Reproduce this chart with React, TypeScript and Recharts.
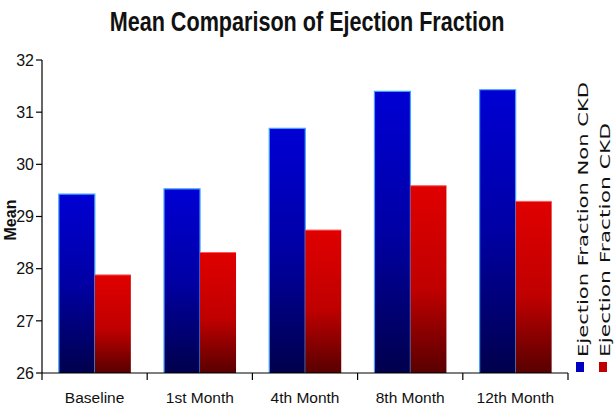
import { BarChart, Bar, XAxis, YAxis } from 'recharts';

const months = ['Baseline', '1st Month', '4th Month', '8th Month', '12th Month'];
const nonCkd = [29.43, 29.53, 30.69, 31.4, 31.43];
const ckd = [27.88, 28.31, 28.74, 29.59, 29.29];
const yTicks = [26, 27, 28, 29, 30, 31, 32];

const data = months.map((m, i) => ({ month: m, nonCkd: nonCkd[i], ckd: ckd[i] }));

const BlueBar = (p: any) => (
  <g>
    <rect x={p.x} y={p.y} width={p.width} height={p.height} fill="url(#gBlue)" />
    <path
      d={`M${p.x},${p.y + p.height} V${p.y} H${p.x + p.width} V${p.y + p.height}`}
      stroke="#3fa2ff"
      strokeWidth={1.2}
      fill="none"
    />
  </g>
);

const RedBar = (p: any) => (
  <g>
    <rect x={p.x} y={p.y} width={p.width} height={p.height} fill="url(#gRed)" />
    <line x1={p.x} x2={p.x + p.width} y1={p.y} y2={p.y} stroke="#ff5a5a" strokeWidth={1} />
  </g>
);

const XTick = (p: any) => {
  const { x, y, payload, index } = p;
  const off = payload.offset || 52.6;
  return (
    <g>
      {index === 0 && <line x1={x - off} x2={x - off} y1={y - 7} y2={y} stroke="#000" strokeWidth={1.2} />}
      <line x1={x + off} x2={x + off} y1={y - 7} y2={y} stroke="#000" strokeWidth={1.2} />
      <text x={x} y={y + 23} textAnchor="middle" fill="#111" fontSize={15.5} fontFamily="Liberation Sans">
        {payload.value}
      </text>
    </g>
  );
};

export default function App() {
  return (
    <div style={{ position: 'absolute', left: 0, top: 0, width: 614, height: 405, background: '#fff' }}>
      <BarChart
        width={614}
        height={405}
        data={data}
        margin={{ top: 60, right: 46, bottom: 4, left: 6 }}
        barCategoryGap="16%"
        barGap={0}
      >
        <defs>
          <linearGradient id="gBlue" x1="0" y1="0" x2="0" y2="1">
            <stop offset="0%" stopColor="#0000d4" />
            <stop offset="50%" stopColor="#0000a4" />
            <stop offset="100%" stopColor="#00004c" />
          </linearGradient>
          <linearGradient id="gRed" x1="0" y1="0" x2="0" y2="1">
            <stop offset="0%" stopColor="#e00000" />
            <stop offset="55%" stopColor="#c00000" />
            <stop offset="100%" stopColor="#580000" />
          </linearGradient>
        </defs>
        <XAxis
          dataKey="month"
          height={28}
          tick={<XTick />}
          tickLine={false}
          tickSize={7}
          tickMargin={0}
          axisLine={{ stroke: '#000', strokeWidth: 1.2 }}
          interval={0}
        />
        <YAxis
          yAxisId="l"
          width={36}
          domain={[26, 32]}
          ticks={yTicks}
          tickSize={6}
          tickMargin={2}
          tick={{ fill: '#111', fontSize: 16, fontFamily: 'Liberation Sans' }}
          tickLine={{ stroke: '#000', strokeWidth: 1.2 }}
          axisLine={{ stroke: '#000', strokeWidth: 1.2 }}
        />
        <YAxis
          yAxisId="r"
          orientation="right"
          width={0}
          domain={[26, 32]}
          tick={false}
          tickLine={false}
          axisLine={{ stroke: '#d4d4d4' }}
        />
        <Bar yAxisId="l" dataKey="nonCkd" name="Ejection Fraction Non CKD" shape={<BlueBar />} isAnimationActive={false} />
        <Bar yAxisId="l" dataKey="ckd" name="Ejection Fraction CKD" shape={<RedBar />} isAnimationActive={false} />
      </BarChart>
      <svg
        width={614}
        height={405}
        style={{ position: 'absolute', left: 0, top: 0, pointerEvents: 'none' }}
      >
        <text
          x={0}
          y={31}
          transform="translate(307, 0) scale(0.8, 1)"
          textAnchor="middle"
          fontFamily="Liberation Sans"
          fontWeight="bold"
          fontSize={27}
          fill="#111"
        >
          Mean Comparison of Ejection Fraction
        </text>
        <text
          x={10}
          y={220}
          transform="rotate(-90, 10, 220)"
          textAnchor="middle"
          dominantBaseline="central"
          fontFamily="Liberation Sans"
          fontWeight="bold"
          fontSize={16}
          fill="#111"
        >
          Mean
        </text>
        <rect x={576} y={362} width={8} height={10} fill="#0000c0" />
        <rect x={599} y={362} width={8} height={10} fill="#c00000" />
        <text
          x={588}
          y={357}
          transform="rotate(-90, 588, 357)"
          fontFamily="DejaVu Sans"
          fontSize={13.5}
          fill="#111"
          textLength={275}
          lengthAdjust="spacingAndGlyphs"
        >
          Ejection Fraction Non CKD
        </text>
        <text
          x={610}
          y={357}
          transform="rotate(-90, 610, 357)"
          fontFamily="DejaVu Sans"
          fontSize={13.5}
          fill="#111"
          textLength={234}
          lengthAdjust="spacingAndGlyphs"
        >
          Ejection Fraction CKD
        </text>
      </svg>
    </div>
  );
}
